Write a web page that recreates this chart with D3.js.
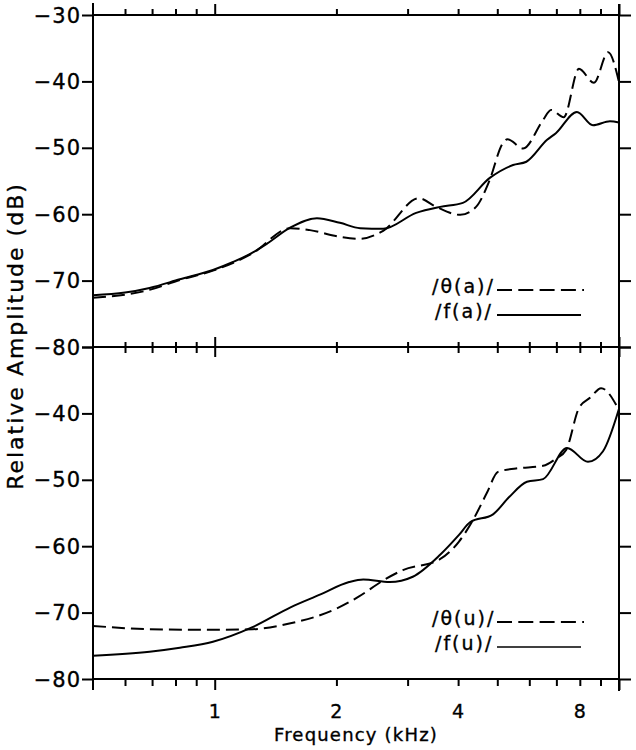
<!DOCTYPE html>
<html>
<head>
<meta charset="utf-8">
<script src="https://cdn.jsdelivr.net/npm/d3@7"></script>
<style>
  body { margin: 0; background: #fff; }
  svg { display: block; }
  text { font-family: 'DejaVu Sans', sans-serif; fill: #000; stroke: #000; stroke-width: 0.35px; }
</style>
</head>
<body>
<div id="chart"></div>
<script>
// frequency axis (kHz)
const X_DOMAIN = [0.5, 10]
const MINOR_TICKS = [0.6, 0.7, 0.8, 0.9, 2, 3, 4, 5, 6, 7, 8, 9]
const DECADE_TICKS = [1, 10]
const X_LABELS = [1, 2, 4, 8]

// amplitude axis (dB)
const Y_DOMAIN = [-80, -30]
const TOP_Y_LABELS = [-30, -40, -50, -60, -70, -80]
const BOT_Y_LABELS = [-40, -50, -60, -70, -80]
const Y_TICKS = [-30, -40, -50, -60, -70, -80]

// top panel: /θ(a)/ dashed, /f(a)/ solid
const thetaA_khz = [0.5, 0.69, 0.82, 0.99, 1.24, 1.54, 1.72, 2.04, 2.29, 2.61, 3.2, 3.53, 4.05, 4.43, 4.77, 5.16, 5.3, 5.79, 6.49, 6.79, 7.3, 7.96, 8.67, 9.4, 10]
const thetaA_db = [-72.6, -71.4, -69.9, -68.5, -65.9, -62.1, -62.4, -63.4, -63.7, -62.5, -57.6, -58.9, -60.1, -58.9, -55.1, -49.3, -48.7, -50.1, -45.8, -44.3, -45.4, -38.1, -40.2, -35.6, -40.1]

const fA_khz = [0.5, 0.6, 0.69, 0.82, 0.99, 1.11, 1.24, 1.35, 1.54, 1.79, 2.04, 2.29, 2.61, 3.15, 3.61, 4.11, 4.8, 5.47, 5.9, 6.64, 6.98, 7.87, 8.62, 9.5, 10]
const fA_db = [-72.2, -71.8, -71.1, -69.8, -68.4, -67.2, -65.8, -64.4, -62.0, -60.6, -61.3, -62.1, -62.2, -59.8, -58.9, -58.3, -54.5, -52.6, -52.1, -48.8, -47.8, -44.6, -46.6, -46.0, -46.2]

// bottom panel: /θ(u)/ dashed, /f(u)/ solid
const thetaU_khz = [0.5, 0.69, 0.99, 1.24, 1.54, 1.8, 2.0, 2.27, 2.62, 2.92, 3.6, 4.02, 4.35, 4.71, 5.02, 5.56, 6.49, 6.99, 7.4, 7.96, 8.5, 9.03, 10]
const thetaU_db = [-72.0, -72.5, -72.6, -72.5, -71.6, -70.5, -69.4, -67.6, -65.1, -63.6, -62.0, -59.3, -56.1, -52.0, -48.8, -48.3, -47.9, -46.8, -45.5, -39.2, -37.6, -36.2, -39.5]

const fU_khz = [0.5, 0.69, 0.82, 0.99, 1.24, 1.54, 1.82, 2.15, 2.33, 2.71, 3.09, 3.61, 4.02, 4.28, 4.88, 5.35, 5.92, 6.49, 7.44, 8.38, 9.13, 10]
const fU_db = [-76.5, -75.9, -75.3, -74.4, -72.2, -69.2, -67.3, -65.4, -65.0, -65.4, -64.6, -61.3, -58.3, -56.4, -55.2, -52.6, -50.3, -49.9, -45.2, -47.3, -45.7, -39.3]

const LEGEND_TOP = ['/θ(a)/', '/f(a)/']
const LEGEND_BOT = ['/θ(u)/', '/f(u)/']

const W = 636, H = 750
const LEFT = 93, RIGHT = 619
const TOP = 15, MID = 347, BOTTOM = 679

let svg = d3.select('#chart').append('svg')
  .attr('width', W)
  .attr('height', H)

let x = d3.scaleLog().domain(X_DOMAIN).range([LEFT, RIGHT])
let yTop = d3.scaleLinear().domain(Y_DOMAIN).range([MID, TOP])
let yBot = d3.scaleLinear().domain(Y_DOMAIN).range([BOTTOM, MID])

let zip = (a, b) => a.map((d, i) => [d, b[i]])

function styleAxis(g) {
  g.select('.domain').remove()
  g.selectAll('line').attr('stroke', '#000').attr('stroke-width', 2)
  g.selectAll('text').remove()
}

// x ticks (minor + decade), per edge
function xTicks(y, dir, minor, major) {
  let mk = dir === 'up' ? d3.axisTop : d3.axisBottom
  svg.append('g').attr('transform', 'translate(0,' + y + ')')
    .call(mk(x).tickValues(MINOR_TICKS).tickSize(minor).tickFormat(''))
    .call(styleAxis)
  svg.append('g').attr('transform', 'translate(0,' + y + ')')
    .call(mk(x).tickValues(DECADE_TICKS).tickSize(major).tickFormat(''))
    .call(styleAxis)
}

xTicks(TOP, 'up', 6, 11)
xTicks(MID, 'up', 5, 10)
xTicks(MID, 'down', 6, 10)
xTicks(BOTTOM, 'down', 7, 11)

// y ticks, both panels, both sides
;[yTop, yBot].forEach((y) => {
  svg.append('g').attr('transform', 'translate(' + LEFT + ',0)')
    .call(d3.axisLeft(y).tickValues(Y_TICKS).tickSize(11).tickFormat(''))
    .call(styleAxis)
  svg.append('g').attr('transform', 'translate(' + RIGHT + ',0)')
    .call(d3.axisRight(y).tickValues(Y_TICKS).tickSize(12).tickFormat(''))
    .call(styleAxis)
})

// frame
let frame = svg.append('g').attr('stroke', '#000').attr('stroke-width', 2)
frame.append('line').attr('x1', LEFT).attr('x2', LEFT).attr('y1', 3).attr('y2', 690)
frame.append('line').attr('x1', RIGHT).attr('x2', RIGHT).attr('y1', 4).attr('y2', 691)
;[TOP, MID, BOTTOM].forEach((y) => {
  frame.append('line').attr('x1', LEFT).attr('x2', RIGHT).attr('y1', y).attr('y2', y)
})

// y tick labels
let yLabels = svg.append('g')
  .attr('font-size', 21)
  .attr('letter-spacing', 1)
  .attr('text-anchor', 'end')

yLabels.selectAll('.yt').data(TOP_Y_LABELS).enter().append('text')
  .attr('x', 81)
  .attr('y', (d) => yTop(d))
  .attr('dy', '0.36em')
  .text((d) => '\u2212' + Math.abs(d))

yLabels.selectAll('.yb').data(BOT_Y_LABELS).enter().append('text')
  .attr('x', 81)
  .attr('y', (d) => yBot(d))
  .attr('dy', '0.36em')
  .text((d) => '\u2212' + Math.abs(d))

// x tick labels
svg.append('g')
  .attr('font-size', 19)
  .attr('text-anchor', 'middle')
  .selectAll('text').data(X_LABELS).enter().append('text')
    .attr('x', (d) => x(d))
    .attr('y', 718)
    .text((d) => d)

svg.append('text')
  .attr('x', (LEFT + RIGHT) / 2)
  .attr('y', 741)
  .attr('font-size', 18)
  .attr('letter-spacing', 1.2)
  .attr('text-anchor', 'middle')
  .text('Frequency (kHz)')

svg.append('text')
  .attr('transform', 'translate(23,336) rotate(-90)')
  .attr('font-size', 22)
  .attr('letter-spacing', 2)
  .attr('text-anchor', 'middle')
  .text('Relative Amplitude (dB)')

// curves
function curve(khz, db, y, dashed) {
  let line = d3.line()
    .x((d) => x(d[0]))
    .y((d) => y(d[1]))
    .curve(d3.curveMonotoneX)
  svg.append('path')
    .datum(zip(khz, db))
    .attr('d', line)
    .attr('fill', 'none')
    .attr('stroke', '#000')
    .attr('stroke-width', 2)
    .attr('stroke-dasharray', dashed ? '13,6' : null)
}

curve(fA_khz, fA_db, yTop, false)
curve(thetaA_khz, thetaA_db, yTop, true)
curve(fU_khz, fU_db, yBot, false)
curve(thetaU_khz, thetaU_db, yBot, true)

// legends
function legend(labels, y0, y1, solidWidth) {
  let g = svg.append('g').attr('font-size', 19).attr('letter-spacing', 2)
  g.append('text').attr('x', 432).attr('y', y0 + 3).text(labels[0])
  g.append('text').attr('x', 435).attr('y', y1 + 3).text(labels[1])
  g.append('line')
    .attr('x1', 497).attr('x2', 584).attr('y1', y0).attr('y2', y0)
    .attr('stroke', '#000').attr('stroke-width', 2)
    .attr('stroke-dasharray', '15,6.3')
  g.append('line')
    .attr('x1', 497).attr('x2', 581).attr('y1', y1).attr('y2', y1)
    .attr('stroke', '#000').attr('stroke-width', solidWidth)
}

legend(LEGEND_TOP, 290, 315, 2)
legend(LEGEND_BOT, 622, 647, 1.5)
</script>
</body>
</html>
